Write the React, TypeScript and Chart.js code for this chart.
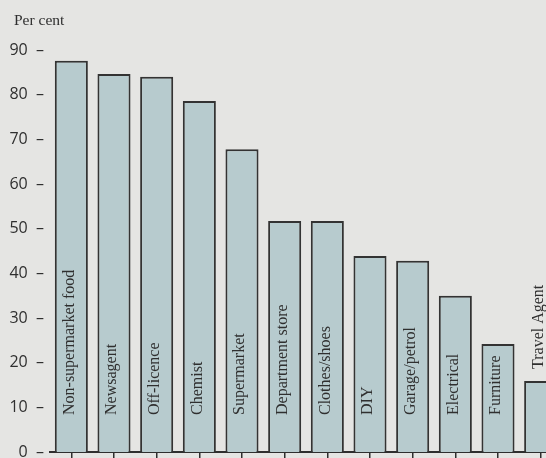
import React, { useEffect, useRef } from "react";
import { Chart, registerables } from "chart.js";

Chart.register(...registerables);

const categories = [
  "Non-supermarket food",
  "Newsagent",
  "Off-licence",
  "Chemist",
  "Supermarket",
  "Department store",
  "Clothes/shoes",
  "DIY",
  "Garage/petrol",
  "Electrical",
  "Furniture",
  "Travel Agent",
];
const values = [87.6, 84.6, 84.0, 78.6, 67.8, 51.7, 51.7, 43.9, 42.8, 35.0, 24.2, 15.9];
const yTicks = [0, 10, 20, 30, 40, 50, 60, 70, 80, 90];
const yTitle = "Per cent";

const BG = "#e5e5e3";
const INK = "#2f2f2f";

const labelPlugin = {
  id: "barLabels",
  afterDatasetsDraw(chart: any) {
    const ctx = chart.ctx;
    const meta = chart.getDatasetMeta(0);
    const area = chart.chartArea;
    ctx.save();
    ctx.font = '16px "Liberation Serif"';
    ctx.fillStyle = INK;
    ctx.textAlign = "left";
    ctx.textBaseline = "middle";
    meta.data.forEach((bar: any, i: number) => {
      const text = categories[i];
      const w = ctx.measureText(text).width;
      const base = area.bottom - 37;
      let startY = base;
      if (base - w < bar.y + 6) startY = bar.y - 12;
      ctx.save();
      ctx.translate(bar.x - 2, startY);
      ctx.rotate(-Math.PI / 2);
      ctx.fillText(text, 0, 0);
      ctx.restore();
    });
    ctx.font = '15.5px "Liberation Serif"';
    ctx.textBaseline = "middle";
    ctx.fillText(yTitle, 14, 21);
    ctx.restore();
  },
};

export default function App() {
  const ref = useRef<HTMLCanvasElement | null>(null);
  useEffect(() => {
    const canvas = ref.current;
    if (!canvas) return;
    const chart = new Chart(canvas, {
      type: "bar",
      data: {
        labels: categories,
        datasets: [
          {
            data: values,
            backgroundColor: "#b7cbce",
            borderColor: "#333333",
            borderWidth: 2,
            barPercentage: 0.775,
            categoryPercentage: 1,
          },
        ],
      },
      options: {
        animation: false,
        responsive: false,
        devicePixelRatio: 1,
        layout: { padding: { top: 50, left: 0, right: 0, bottom: 0 } },
        plugins: { legend: { display: false }, tooltip: { enabled: false }, title: { display: false } },
        scales: {
          x: {
            type: "category",
            offset: true,
            afterFit: (s: any) => {
              s.height = 18;
            },
            grid: {
              display: true,
              drawOnChartArea: false,
              drawTicks: true,
              tickLength: 12,
              offset: false,
              color: INK,
              lineWidth: 1.5,
            },
            border: { display: true, color: INK, width: 2 },
            ticks: { display: false },
          },
          y: {
            min: 0,
            max: 90,
            afterFit: (s: any) => {
              s.width = 50;
            },
            afterBuildTicks: (s: any) => {
              s.ticks = yTicks.map((v) => ({ value: v }));
            },
            grid: { display: false, drawTicks: false },
            border: { display: false },
            ticks: {
              padding: 6,
              color: INK,
              font: { family: '"Open Sans"', size: 16 },
              callback: (v: any) => `${v}  –`,
            },
          },
        },
      },
      plugins: [labelPlugin],
    });
    return () => chart.destroy();
  }, []);
  return (
    <div
      style={{
        position: "fixed",
        left: 0,
        top: 0,
        width: 546,
        height: 458,
        overflow: "hidden",
        background: BG,
      }}
    >
      <canvas ref={ref} width={562} height={470} style={{ display: "block", width: 562, height: 470 }} />
    </div>
  );
}
